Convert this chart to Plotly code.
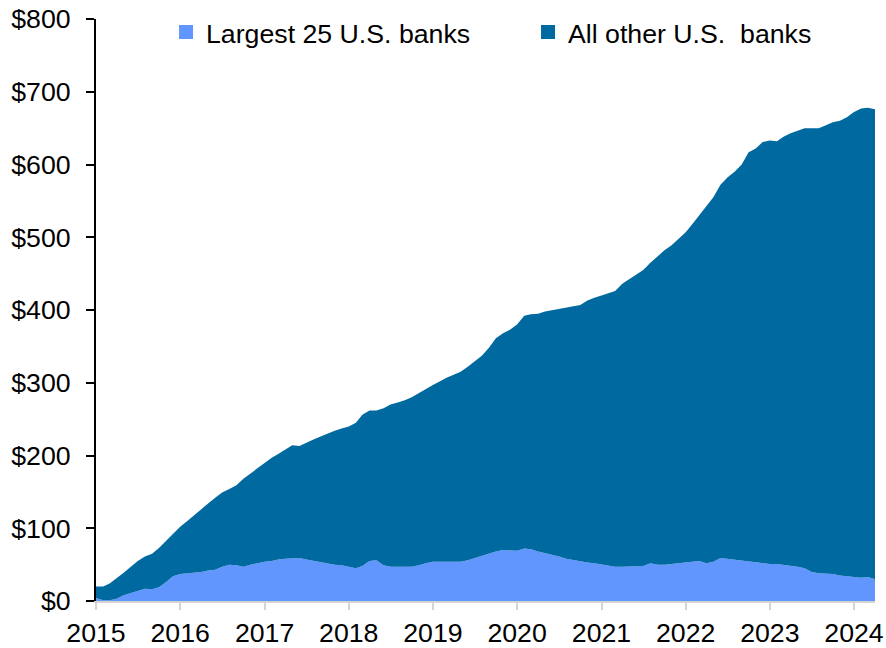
import pandas as pd
import plotly.graph_objects as go

# Monthly observations, Jan 2015 - Apr 2024 ($ billions)
months = pd.date_range("2015-01-01", "2024-04-01", freq="MS")

largest_25 = [
    4, 1, 1, 3, 8, 11, 14, 17, 16, 19, 26, 34,
    37, 38, 39, 40, 42, 43, 47, 50, 49, 47, 50, 52,
    54, 55, 57, 58, 58, 59, 57, 55, 54, 52, 50, 49,
    47, 45, 48, 55, 56, 49, 47, 47, 47, 47, 49, 52,
    54, 54, 55, 54, 54, 56, 59, 62, 65, 68, 70, 70,
    69, 72, 71, 68, 66, 64, 61, 58, 56, 54, 53, 52,
    50, 48, 47, 47, 47, 47, 48, 52, 50, 50, 51, 52,
    53, 55, 55, 52, 54, 59, 58, 56, 55, 54, 53, 52,
    51, 51, 50, 48, 47, 45, 40, 38, 38, 37, 35, 34,
    34, 32, 33, 30,
]

all_other = [
    16, 19, 23, 28, 31, 36, 41, 44, 49, 54, 57, 59,
    65, 72, 79, 86, 92, 99, 102, 104, 110, 121, 125, 130,
    136, 142, 145, 150, 156, 154, 161, 167, 172, 178, 184, 188,
    193, 200, 208, 207, 206, 216, 223, 226, 229, 233, 237, 240,
    243, 248, 252, 257, 261, 266, 271, 275, 283, 293, 298, 303,
    311, 320, 323, 327, 332, 336, 341, 345, 349, 353, 360, 365,
    370, 375, 379, 389, 395, 401, 407, 413, 424, 432, 438, 446,
    454, 464, 475, 490, 501, 513, 524, 534, 545, 563, 569, 579,
    582, 581, 588, 595, 599, 605, 610, 612, 616, 621, 625, 631,
    638, 645, 645, 646,
]

series_names = ["Largest 25 U.S. banks", "All other U.S.  banks"]
series_colors = ["#6196FE", "#0069A0"]
legend_ids = ["legend", "legend2"]
y_ticks = [0, 100, 200, 300, 400, 500, 600, 700, 800]
y_tick_text = ["$" + str(v) for v in y_ticks]

FONT = "Arial, Liberation Sans, sans-serif"
FS = 26.7

fig = go.Figure()

for name, vals, color in zip(series_names, [largest_25, all_other], series_colors):
    fig.add_trace(go.Scatter(
        x=months, y=vals, name=name, mode="lines",
        line=dict(width=0, color=color), fillcolor=color,
        stackgroup="banks", showlegend=False, hoverinfo="x+y+name",
    ))

# square legend keys, one legend box per series
for name, color, lg in zip(series_names, series_colors, legend_ids):
    fig.add_trace(go.Scatter(
        x=[None], y=[None], name=name, mode="markers", legend=lg,
        marker=dict(symbol="square", size=14, color=color),
    ))

legend_style = dict(
    orientation="h", xanchor="left", y=1.0185, yanchor="top",
    bgcolor="rgba(0,0,0,0)", font=dict(size=FS), itemwidth=30,
)

fig.update_layout(
    width=886, height=648,
    margin=dict(l=96, r=11, t=19, b=47, autoexpand=False),
    paper_bgcolor="white", plot_bgcolor="white",
    font=dict(family=FONT, size=FS, color="#000000"),
    showlegend=True,
    legend=dict(x=0.0899, **legend_style),
    legend2=dict(x=0.5546, **legend_style),
    xaxis=dict(
        range=[months[0], months[-1]],
        tickformat="%Y", dtick="M12", tick0="2015-01-01",
        showgrid=False, zeroline=False, automargin=False,
        showline=True, linecolor="#D4D4D4", linewidth=2,
        ticks="outside", ticklen=7, tickwidth=2, tickcolor="#D4D4D4",
        tickfont=dict(size=FS),
    ),
    yaxis=dict(
        range=[0, 800], tickvals=y_ticks, ticktext=y_tick_text,
        showgrid=False, zeroline=False, automargin=False,
        showline=True, linecolor="#000000", linewidth=2,
        ticks="outside", ticklen=8, tickwidth=2, tickcolor="#000000",
        ticklabelstandoff=10, tickfont=dict(size=FS),
    ),
)

fig.write_html("out.html")
